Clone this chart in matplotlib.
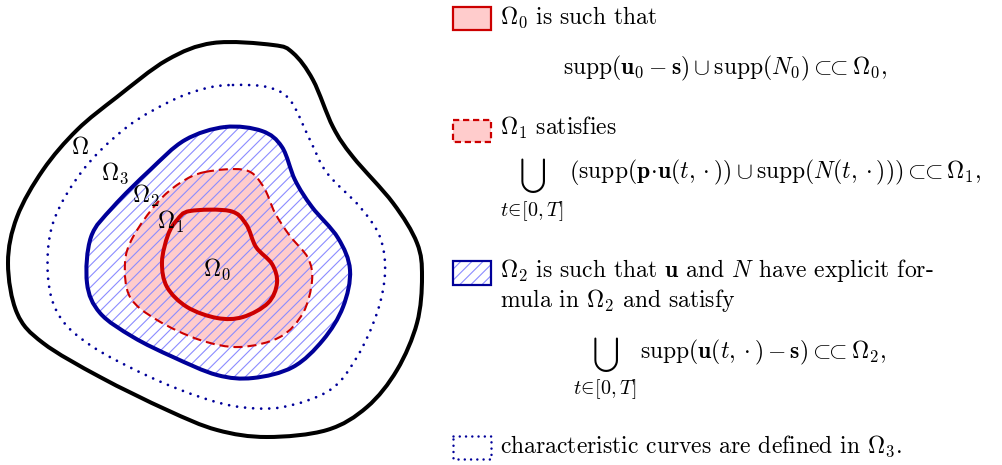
import numpy as np
import matplotlib
matplotlib.use("Agg")
import matplotlib.pyplot as plt
from matplotlib.path import Path
from matplotlib.patches import PathPatch, Rectangle

plt.rcParams['font.family'] = 'serif'
plt.rcParams['font.serif'] = ['cmr10', 'DejaVu Serif']
plt.rcParams['mathtext.fontset'] = 'cm'
plt.rcParams['axes.formatter.use_mathtext'] = True
plt.rcParams['lines.scale_dashes'] = False
plt.rcParams['hatch.linewidth'] = 0.8

# ---- contour control points (pixel coordinates) ----
omega_x = [213, 273, 293, 313, 333, 353, 393, 417, 422, 417, 397, 367, 327, 267, 217, 167, 100, 43, 17, 8, 17, 43, 77, 117, 167]
omega_y = [43, 45, 53, 80, 127, 157, 203, 243, 277, 323, 370, 407, 430, 437, 430, 410, 377, 343, 313, 263, 217, 170, 130, 97, 60]

omega3_x = [233, 267, 290, 310, 327, 360, 380, 385, 377, 357, 330, 283, 240, 200, 150, 93, 60, 48, 53, 83, 127, 173, 207]
omega3_y = [85, 87, 100, 140, 173, 207, 237, 273, 313, 357, 390, 407, 407, 397, 377, 347, 317, 277, 223, 170, 127, 100, 88]

omega2_x = [225, 262, 282, 295, 312, 338, 350, 343, 323, 293, 253, 217, 173, 133, 100, 87, 91, 113, 150, 185]
omega2_y = [127, 131, 147, 180, 207, 238, 270, 307, 340, 367, 378, 375, 357, 337, 313, 283, 237, 207, 170, 140]

omega1_x = [205, 245, 263, 275, 290, 308, 312, 303, 280, 240, 200, 157, 130, 125, 133, 157, 180]
omega1_y = [172, 170, 186, 213, 236, 258, 281, 313, 337, 347, 340, 320, 297, 263, 237, 203, 183]

omega0_x = [190, 230, 246, 256, 272, 277, 268, 243, 217, 187, 167, 162, 168, 177]
omega0_y = [211, 211, 224, 247, 264, 283, 303, 317, 318, 307, 287, 262, 235, 220]

region_labels = [r'$\Omega$', r'$\Omega_3$', r'$\Omega_2$', r'$\Omega_1$', r'$\Omega_0$']
label_x = [80, 115, 146, 171, 217]
label_y = [148, 173, 196, 222, 269]

RED = '#cc0000'
PINK = '#ffcccc'
NAVY = '#000099'
HATCH = '#8c8cff'


def smooth_path(xs, ys):
    P = np.column_stack([xs, ys]).astype(float)
    n = len(P)
    verts = [P[0]]
    codes = [Path.MOVETO]
    for i in range(n):
        p0, p1, p2, p3 = P[i - 1], P[i], P[(i + 1) % n], P[(i + 2) % n]
        c1 = p1 + (p2 - p0) / 6.0
        c2 = p2 - (p3 - p1) / 6.0
        verts += [c1, c2, p2]
        codes += [Path.CURVE4] * 3
    return Path(verts, codes)


fig = plt.figure(figsize=(10.03, 4.65), dpi=100)
ax = fig.add_axes([0, 0, 1, 1])
ax.set_xlim(0, 1003)
ax.set_ylim(465, 0)
ax.axis('off')

p_om = smooth_path(omega_x, omega_y)
p_o3 = smooth_path(omega3_x, omega3_y)
p_o2 = smooth_path(omega2_x, omega2_y)
p_o1 = smooth_path(omega1_x, omega1_y)
p_o0 = smooth_path(omega0_x, omega0_y)

# fills
ax.add_patch(PathPatch(p_o1, facecolor=PINK, edgecolor='none', lw=0, zorder=1))
ax.add_patch(PathPatch(p_o0, facecolor=PINK, edgecolor='none', lw=0, zorder=1))
ax.add_patch(PathPatch(p_o2, facecolor='none', edgecolor=HATCH, hatch='///', lw=0, zorder=2))

# outlines
ax.add_patch(PathPatch(p_om, facecolor='none', edgecolor='black', lw=2.9, zorder=3))
ax.add_patch(PathPatch(p_o3, facecolor='none', edgecolor=NAVY, lw=2.0,
                       linestyle=(0, (0.01, 5.8)), capstyle='round', zorder=3))
ax.add_patch(PathPatch(p_o2, facecolor='none', edgecolor=NAVY, lw=2.9, zorder=3))
ax.add_patch(PathPatch(p_o1, facecolor='none', edgecolor=RED, lw=1.5,
                       linestyle=(0, (6.5, 3.6)), zorder=3))
ax.add_patch(PathPatch(p_o0, facecolor='none', edgecolor=RED, lw=2.9, zorder=3))

for s, x, y in zip(region_labels, label_x, label_y):
    ax.text(x, y, s, fontsize=17, ha='center', va='center', zorder=5)

# ---- legend icons ----
ax.add_patch(Rectangle((453, 7), 38, 23, facecolor=PINK, edgecolor=RED, lw=1.6, zorder=3))
ax.add_patch(Rectangle((453, 120), 38, 22, facecolor=PINK, edgecolor=RED, lw=1.6,
                       linestyle=(0, (4.5, 2.7)), zorder=3))
ax.add_patch(Rectangle((453, 261), 38, 24, facecolor='none', edgecolor=HATCH, hatch='///', lw=0, zorder=3))
ax.add_patch(Rectangle((453, 261), 38, 24, facecolor='none', edgecolor=NAVY, lw=1.6, zorder=3))
ax.add_patch(Rectangle((453, 436), 38, 23, facecolor='none', edgecolor=NAVY, lw=1.8,
                       linestyle=(0, (0.01, 4.5)), capstyle='round', zorder=3))

FS = 17
SUB = r'\subset\!\!\!\subset'
ax.text(500, 17, r'$\Omega_0$ is such that', fontsize=FS, va='center', ha='left')
ax.text(563, 68, r'$\mathrm{supp}(\mathbf{u}_0-\mathbf{s})\cup\mathrm{supp}(N_0)' + SUB + r'\Omega_0,$',
        fontsize=FS, va='center', ha='left')

ax.text(500, 128, r'$\Omega_1$ satisfies', fontsize=FS, va='center', ha='left')
ax.text(533, 175, r'$\bigcup$', fontsize=17, va='center', ha='center')
ax.text(532, 211, r'$t\!\in\![0,T]$', fontsize=14.5, va='center', ha='center')
ax.text(569, 172, r'$\left(\mathrm{supp}(\mathbf{p}\!\cdot\!\mathbf{u}(t,\cdot))\cup\mathrm{supp}(N(t,\cdot))\right)' + SUB + r'\Omega_1,$',
        fontsize=FS, va='center', ha='left')

ax.text(500, 270, r'$\Omega_2$ is such that $\mathbf{u}$ and $N$ have explicit for-', fontsize=FS, va='center', ha='left')
ax.text(500, 300, r'mula in $\Omega_2$ and satisfy', fontsize=FS, va='center', ha='left')
ax.text(606, 354, r'$\bigcup$', fontsize=17, va='center', ha='center')
ax.text(605, 389, r'$t\!\in\![0,T]$', fontsize=14.5, va='center', ha='center')
ax.text(640, 352, r'$\mathrm{supp}(\mathbf{u}(t,\cdot)-\mathbf{s})' + SUB + r'\Omega_2,$',
        fontsize=FS, va='center', ha='left')

ax.text(500, 446, r'characteristic curves are defined in $\Omega_3$.', fontsize=FS, va='center', ha='left')

fig.savefig('out.png', dpi=100)
